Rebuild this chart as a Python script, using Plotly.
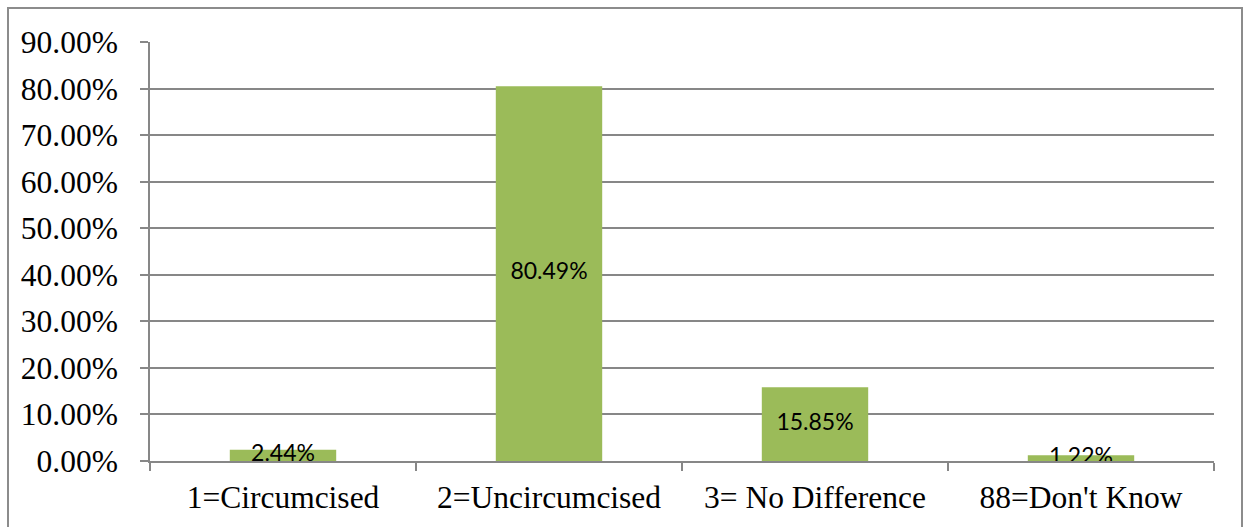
import plotly.graph_objects as go

categories = ["1=Circumcised", "2=Uncircumcised", "3= No Difference", "88=Don't Know"]
values = [0.0244, 0.8049, 0.1585, 0.0122]
labels = ["2.44%", "80.49%", "15.85%", "1.22%"]

GRID = "#878787"
SERIF = "'Liberation Serif', 'Times New Roman', Times, 'DejaVu Serif', serif"

fig = go.Figure()
fig.add_trace(go.Bar(
    x=categories, y=values, marker=dict(color="#9BBB59", line=dict(width=0)),
    hoverinfo="skip", showlegend=False,
))
fig.add_trace(go.Scatter(
    x=categories, y=[v / 2 for v in values], mode="text", text=labels,
    textfont=dict(family="Lato", size=23, color="black"),
    textposition="middle center", hoverinfo="skip", showlegend=False,
))

fig.update_layout(
    width=1248, height=527,
    margin=dict(l=150, r=34, t=42, b=66),
    paper_bgcolor="white", plot_bgcolor="white",
    bargap=0.6,
    font=dict(family=SERIF, size=31.5, color="black"),
    xaxis=dict(
        showgrid=False, showline=True, linecolor=GRID, linewidth=1.5,
        ticks="outside", tickson="boundaries", ticklen=8, tickcolor=GRID, tickwidth=1.5,
        tickfont=dict(family=SERIF, size=31.5, color="black"),
        ticklabelstandoff=7,
    ),
    yaxis=dict(
        range=[0, 0.9], dtick=0.1, tick0=0, tickformat=".2%",
        showgrid=True, gridcolor=GRID, gridwidth=1.5,
        showline=True, linecolor=GRID, linewidth=1.5,
        ticks="outside", ticklen=8, tickcolor=GRID, tickwidth=1.5,
        tickfont=dict(family=SERIF, size=31.5, color="black"),
        ticklabelstandoff=16, zeroline=False,
    ),
    shapes=[dict(
        type="rect", xref="paper", yref="paper",
        x0=(8 - 150) / 1064, x1=(1242 - 150) / 1064,
        y0=(461 - 545) / 419, y1=1 + (42 - 8) / 419,
        line=dict(color="#8C8C8C", width=2), fillcolor="rgba(0,0,0,0)", layer="below",
    )],
)

fig.write_html("out.html")
